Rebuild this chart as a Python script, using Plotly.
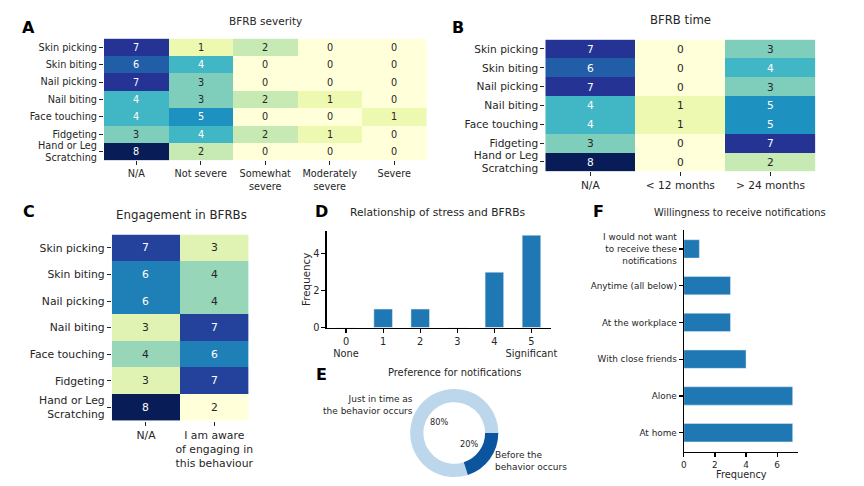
import math
import plotly.graph_objects as go

W, H = 864, 486

# ---------------- data ----------------
bfrb_rows = ["Skin picking", "Skin biting", "Nail picking", "Nail biting",
             "Face touching", "Fidgeting", "Hand or Leg<br>Scratching"]

severity_cols = ["N/A", "Not severe", "Somewhat<br>severe", "Moderately<br>severe", "Severe"]
severity_vals = [
    [7, 1, 2, 0, 0],
    [6, 4, 0, 0, 0],
    [7, 3, 0, 0, 0],
    [4, 3, 2, 1, 0],
    [4, 5, 0, 0, 1],
    [3, 4, 2, 1, 0],
    [8, 2, 0, 0, 0],
]

time_cols = ["N/A", "&lt; 12 months", "&gt; 24 months"]
time_vals = [
    [7, 0, 3],
    [6, 0, 4],
    [7, 0, 3],
    [4, 1, 5],
    [4, 1, 5],
    [3, 0, 7],
    [8, 0, 2],
]

engage_cols = ["N/A", "I am aware<br>of engaging in<br>this behaviour"]
engage_vals = [
    [7, 3],
    [6, 4],
    [6, 4],
    [3, 7],
    [4, 6],
    [3, 7],
    [8, 2],
]

stress_levels = [0, 1, 2, 3, 4, 5]
stress_ticktext = ["0<br>None", "1", "2", "3", "4", "5<br>Significant"]
stress_freq = [0, 1, 1, 0, 3, 5]

notif_labels = ["Just in time as<br>the behavior occurs", "Before the<br>behavior occurs"]
notif_share = [80, 20]

willing_labels = ["At home", "Alone", "With close friends", "At the workplace",
                  "Anytime (all below)", "I would not want<br>to receive these<br>notifications"]
willing_freq = [7, 7, 4, 3, 3, 1]

# ---------------- styling ----------------
FONT = "DejaVu Sans"
TXT = "#262626"
YLGNBU = ['#ffffd9', '#edf8b1', '#c7e9b4', '#7fcdbb', '#41b6c4',
          '#1d91c0', '#225ea8', '#253494', '#081d58']
CS = [[i / (len(YLGNBU) - 1), c] for i, c in enumerate(YLGNBU)]
BAR = '#1f77b4'


def fx(p):
    return p / W


def fy(p):
    return 1 - p / H


fig = go.Figure()
layout = {}
annots = []


def heat(n, vals, cols, px_x, px_y, zmin, zmax, fsize):
    sfx = '' if n == 1 else str(n)
    nr, nc = len(vals), len(vals[0])
    fig.add_trace(go.Heatmap(z=vals, x=list(range(nc)), y=list(range(nr)),
                             colorscale=CS, zmin=zmin, zmax=zmax, showscale=False,
                             xaxis='x' + sfx, yaxis='y' + sfx, hoverinfo='skip'))
    for r in range(nr):
        for c in range(nc):
            v = vals[r][c]
            norm = (v - zmin) / (zmax - zmin)
            annots.append(dict(x=c, y=r, xref='x' + sfx, yref='y' + sfx, text=str(v),
                               showarrow=False,
                               font=dict(family=FONT, size=fsize,
                                         color='white' if norm >= 0.45 else TXT)))
    layout['xaxis' + sfx] = dict(domain=[fx(px_x[0]), fx(px_x[1])], range=[-0.5, nc - 0.5],
                                 tickmode='array', tickvals=list(range(nc)), ticktext=cols,
                                 ticks='outside', ticklen=4, tickwidth=1, tickcolor=TXT,
                                 showgrid=False, zeroline=False, showline=False,
                                 tickfont=dict(family=FONT, size=fsize, color=TXT),
                                 anchor='y' + sfx, fixedrange=True)
    layout['yaxis' + sfx] = dict(domain=[fy(px_y[1]), fy(px_y[0])], range=[nr - 0.5, -0.5],
                                 tickmode='array', tickvals=list(range(nr)), ticktext=bfrb_rows,
                                 ticks='outside', ticklen=4, tickwidth=1, tickcolor=TXT,
                                 showgrid=False, zeroline=False, showline=False,
                                 tickfont=dict(family=FONT, size=fsize, color=TXT),
                                 anchor='x' + sfx, fixedrange=True)


heat(1, severity_vals, severity_cols, (102, 428), (39, 162), 0, 8, 9.7)
heat(2, time_vals, time_cols, (548, 821), (40, 173), 0, 8, 10.6)
heat(3, engage_vals, engage_cols, (110, 248), (237, 425), 2, 8, 10.8)

# ---- D: stress bar chart ----
fig.add_trace(go.Bar(x=stress_levels, y=stress_freq, width=0.5, marker_color=BAR,
                     xaxis='x4', yaxis='y4', hoverinfo='skip'))
axis_common = dict(showgrid=False, zeroline=False, showline=True, linecolor='black',
                   linewidth=1.2, ticks='outside', ticklen=4, tickwidth=1.2,
                   tickcolor='black', fixedrange=True)
layout['xaxis4'] = dict(domain=[fx(327), fx(553.7)], range=[-0.525, 5.525],
                        tickmode='array', tickvals=stress_levels, ticktext=stress_ticktext,
                        tickfont=dict(family=FONT, size=9.8, color=TXT), anchor='y4',
                        **axis_common)
layout['yaxis4'] = dict(domain=[fy(331), fy(233)], range=[0, 5.25],
                        tickmode='array', tickvals=[0, 2, 4],
                        tickfont=dict(family=FONT, size=9.8, color=TXT), anchor='x4',
                        **axis_common)
annots.append(dict(x=fx(306), y=fy(282), xref='paper', yref='paper', text='Frequency',
                   textangle=-90, showarrow=False, xanchor='center', yanchor='middle',
                   font=dict(family=FONT, size=10.3, color=TXT)))

# ---- F: willingness horizontal bars ----
fig.add_trace(go.Bar(x=willing_freq, y=list(range(len(willing_freq))), orientation='h',
                     width=0.5, marker_color=BAR, xaxis='x5', yaxis='y5', hoverinfo='skip'))
layout['xaxis5'] = dict(domain=[fx(688), fx(803.5)], range=[0, 7.35],
                        tickmode='array', tickvals=[0, 2, 4, 6],
                        tickfont=dict(family=FONT, size=8.9, color=TXT), anchor='y5',
                        **axis_common)
layout['yaxis5'] = dict(domain=[fy(456.7), fy(232)], range=[-0.525, 5.525],
                        tickmode='array', tickvals=list(range(len(willing_labels))),
                        ticktext=willing_labels,
                        tickfont=dict(family=FONT, size=8.9, color=TXT), anchor='x5',
                        **axis_common)
annots.append(dict(x=fx(746), y=fy(479), xref='paper', yref='paper', text='Frequency',
                   showarrow=False, xanchor='center', yanchor='middle',
                   font=dict(family=FONT, size=9.8, color=TXT)))

# ---- E: donut (matplotlib-style: first wedge starts at 3 o'clock, counter-clockwise) ----
pie_x = (411, 501)
pie_y = (393, 482)
total = sum(notif_share)
# plotly's counterclockwise mode puts the first slice clockwise of `rotation`,
# so offset the start so the first slice begins at 3 o'clock going CCW.
rot = 90 + 360 * (total - notif_share[0]) / total
fig.add_trace(go.Pie(values=notif_share, labels=notif_labels, hole=0.7, sort=False,
                     direction='counterclockwise', rotation=rot, textinfo='none',
                     marker=dict(colors=['#bcd7ec', '#0b559f'], line=dict(width=0)),
                     domain=dict(x=[fx(pie_x[0]), fx(pie_x[1])], y=[fy(pie_y[1]), fy(pie_y[0])]),
                     showlegend=False, hoverinfo='skip'))
cx = (pie_x[0] + pie_x[1]) / 2
cy = (pie_y[0] + pie_y[1]) / 2
R = min(pie_x[1] - pie_x[0], pie_y[1] - pie_y[0]) / 2
cum = 0
for lab, v in zip(notif_labels, notif_share):
    th = math.radians(360 * (cum + v / 2) / total)
    cum += v
    px_ = cx + 0.42 * R * math.cos(th)
    py_ = cy - 0.42 * R * math.sin(th)
    annots.append(dict(x=fx(px_), y=fy(py_), xref='paper', yref='paper',
                       text=f"{v / total * 100:.0f}%", showarrow=False,
                       xanchor='center', yanchor='middle',
                       font=dict(family=FONT, size=8.2, color=TXT)))
    lx = cx + 1.1 * R * math.cos(th)
    ly = cy - 1.1 * R * math.sin(th)
    annots.append(dict(x=fx(lx), y=fy(ly), xref='paper', yref='paper', text=lab,
                       showarrow=False, xanchor='right' if math.cos(th) < 0 else 'left',
                       yanchor='middle', align='right' if math.cos(th) < 0 else 'left',
                       font=dict(family=FONT, size=9, color=TXT)))

# ---- titles & panel letters ----
titles = [
    ("BFRB severity", 265, 21, 10.5),
    ("BFRB time", 685, 20, 11.7),
    ("Engagement in BFRBs", 180, 217, 11.8),
    ("Relationship of stress and BFRBs", 439, 215, 10.7),
    ("Preference for notifications", 456.5, 376, 9.9),
    ("Willingness to receive notifications", 744.5, 215, 9.9),
]
for t, x, y, s in titles:
    annots.append(dict(x=fx(x), y=fy(y), xref='paper', yref='paper', text=t,
                       showarrow=False, xanchor='center', yanchor='middle',
                       font=dict(family=FONT, size=s, color=TXT)))

letters = [("A", 26, 28), ("B", 460, 28), ("C", 26, 214), ("D", 322, 214),
           ("E", 322, 378), ("F", 602, 214)]
for t, x, y in letters:
    annots.append(dict(x=fx(x), y=fy(y), xref='paper', yref='paper', text=f"<b>{t}</b>",
                       showarrow=False, xanchor='center', yanchor='middle',
                       font=dict(family=FONT, size=16, color='black')))

fig.update_layout(width=W, height=H, autosize=False,
                  margin=dict(l=0, r=0, t=0, b=0),
                  paper_bgcolor='white', plot_bgcolor='white',
                  showlegend=False, bargap=0,
                  font=dict(family=FONT, color=TXT),
                  annotations=annots, **layout)

fig.write_html("out.html", config={'displayModeBar': False, 'staticPlot': True},
               post_script="document.body.style.margin='0';document.body.style.overflow='hidden';")
